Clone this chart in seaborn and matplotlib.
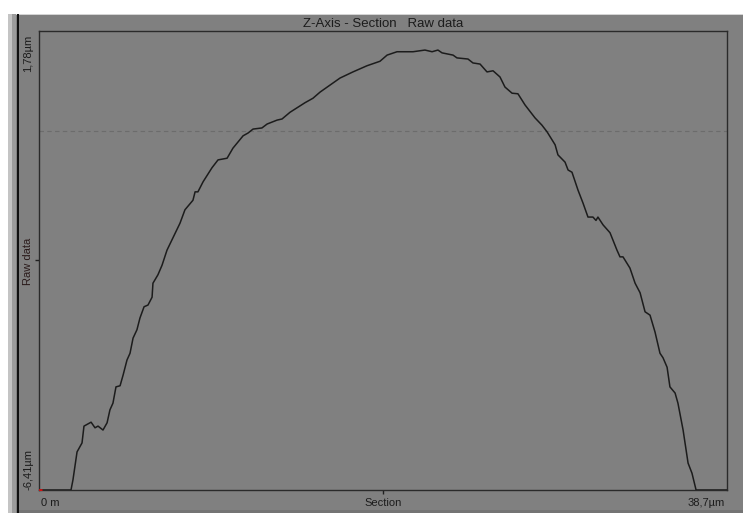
"""Z-axis section profile (raw data), styled like the instrument software."""

import matplotlib
matplotlib.use("Agg")
import matplotlib.pyplot as plt
from matplotlib.patches import Rectangle
import numpy as np
import pandas as pd
import seaborn as sns

# profile (µm)
SECTION_UM = [
    0.00, 1.80, 1.91, 2.14, 2.42, 2.53, 2.93, 3.15, 3.32, 3.60, 3.83, 3.99,
    4.16, 4.33, 4.56, 4.73, 4.95, 5.12, 5.29, 5.51, 5.68, 5.91, 6.13, 6.36,
    6.41, 6.69, 6.92, 7.20, 7.93, 8.21, 8.66, 8.78, 8.94, 9.23, 9.73, 10.07,
    10.58, 10.91, 11.48, 11.76, 12.04, 12.54, 12.83, 13.39, 13.67, 14.12,
    14.96, 15.41, 15.81, 16.93, 17.66, 18.45, 19.18, 19.58, 20.14, 21.04,
    21.71, 22.11, 22.44, 22.67, 23.29, 23.51, 24.13, 24.41, 24.81, 25.20,
    25.54, 25.93, 26.21, 26.61, 26.94, 27.34, 27.90, 28.29, 28.58, 29.03,
    29.19, 29.59, 29.76, 29.98, 30.32, 30.60, 30.88, 31.16, 31.33, 31.44,
    31.73, 32.12, 32.51, 32.68, 32.85, 33.24, 33.53, 33.81, 34.09, 34.37,
    34.65, 34.93, 35.10, 35.33, 35.49, 35.78, 35.94, 36.23, 36.51, 36.73,
    36.96, 38.70,
]
HEIGHT_UM = [
    -6.41, -6.41, -6.23, -5.73, -5.57, -5.27, -5.20, -5.30, -5.27, -5.34,
    -5.21, -4.98, -4.86, -4.57, -4.55, -4.36, -4.09, -3.97, -3.70, -3.55,
    -3.34, -3.14, -3.11, -2.97, -2.72, -2.57, -2.40, -2.13, -1.65, -1.41,
    -1.24, -1.09, -1.09, -0.91, -0.66, -0.52, -0.49, -0.31, -0.09, -0.04,
    0.03, 0.05, 0.12, 0.19, 0.21, 0.33, 0.50, 0.58, 0.69, 0.94, 1.05, 1.16,
    1.24, 1.35, 1.41, 1.41, 1.44, 1.41, 1.44, 1.39, 1.35, 1.30, 1.28, 1.21,
    1.19, 1.05, 1.07, 0.96, 0.78, 0.67, 0.66, 0.46, 0.23, 0.10, -0.02,
    -0.25, -0.43, -0.56, -0.70, -0.74, -1.06, -1.29, -1.54, -1.54, -1.60,
    -1.54, -1.68, -1.82, -2.13, -2.25, -2.25, -2.45, -2.72, -2.89, -3.23,
    -3.29, -3.59, -3.97, -4.05, -4.22, -4.57, -4.68, -4.86, -5.34, -5.93,
    -6.11, -6.41, -6.41,
]
X_RANGE = (0.0, 38.7)
Y_RANGE = (-6.41, 1.78)
REFERENCE_LEVEL = 0.0

TITLE = "Z-Axis - Section   Raw data"
X_LABELS = ["0 m", "Section", "38,7µm"]
Y_LABELS = ["-6,41µm", "Raw data", "1,78µm"]

W, H = 743, 513
GRAY = "#808080"
INK = "#1c1c1c"

sns.set_style("white")
plt.rcParams["font.family"] = ["Liberation Sans", "DejaVu Sans"]

df = pd.DataFrame({"x": SECTION_UM, "z": HEIGHT_UM})

fig = plt.figure(figsize=(W / 100, H / 100), dpi=100, facecolor="white")


def px_rect(x0, y0, x1, y1, color):
    # rectangle in pixel coords, y from top
    fig.patches.append(Rectangle((x0 / W, 1 - y1 / H), (x1 - x0) / W, (y1 - y0) / H,
                                 transform=fig.transFigure, color=color, zorder=-10,
                                 linewidth=0))


px_rect(8, 14, W, H, GRAY)
px_rect(8, 14, W, 15, "#d4d4d4")
px_rect(8, 14, 12, H, "#c4c4c4")
px_rect(12, 14, 16, H, "#9c9c9c")
px_rect(16.5, 14, 18.5, H, "#101010")
px_rect(18.5, H - 3, W, H, "#747474")

left, right, top, bottom = 39, 727, 31, 490
ax = fig.add_axes([left / W, 1 - bottom / H, (right - left) / W, (bottom - top) / H])
ax.set_facecolor(GRAY)

ax.axhline(REFERENCE_LEVEL, color="#6c6c6c", lw=0.8, ls=(0, (4, 3)), zorder=1)
sns.lineplot(data=df, x="x", y="z", ax=ax, color=INK, lw=1.1, sort=False,
             estimator=None, zorder=3)
ax.plot(df["x"].iloc[:1], df["z"].iloc[:1], marker="_", color="#d01010",
        markersize=5, mew=2, zorder=4)

ax.set_xlim(*X_RANGE)
ax.set_ylim(*Y_RANGE)
ax.set_xticks([sum(X_RANGE) / 2])
ax.set_yticks([sum(Y_RANGE) / 2])
ax.set_xticklabels([])
ax.set_yticklabels([])
ax.tick_params(axis="both", direction="out", length=3, width=1, color="#202020",
               bottom=True, left=True)
ax.set_xlabel("")
ax.set_ylabel("")
for sp in ax.spines.values():
    sp.set_color("#2a2a2a")
    sp.set_linewidth(1.0)
    sp.set_visible(True)

ax.set_title(TITLE, fontsize=9.5, color=INK, pad=3)

fs = 8
ty = 1 - 503 / H
fig.text(41 / W, ty, X_LABELS[0], ha="left", va="center", fontsize=fs, color=INK)
fig.text(383 / W, ty, X_LABELS[1], ha="center", va="center", fontsize=fs, color=INK)
fig.text(725 / W, ty, X_LABELS[2], ha="right", va="center", fontsize=fs, color=INK)

lx = 28 / W
fig.text(lx, 1 - 490 / H, Y_LABELS[0], rotation=90, ha="center", va="bottom",
         fontsize=fs, color=INK)
fig.text(lx, 1 - 261 / H, Y_LABELS[1], rotation=90, ha="center", va="center",
         fontsize=fs, color="#2a1a1a")
fig.text(lx, 1 - 35 / H, Y_LABELS[2], rotation=90, ha="center", va="top",
         fontsize=fs, color=INK)

fig.savefig("out.png", dpi=100, facecolor=fig.get_facecolor())
